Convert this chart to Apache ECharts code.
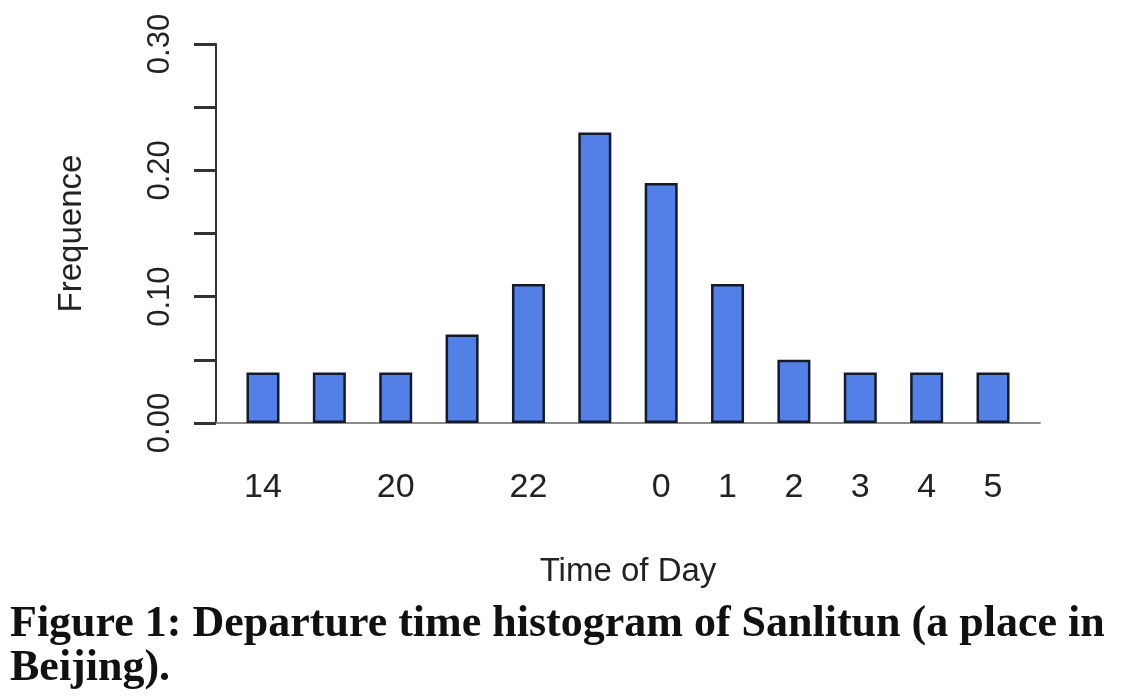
<!DOCTYPE html>
<html>
<head>
<meta charset="utf-8">
<script src="https://cdn.jsdelivr.net/npm/echarts@6/dist/echarts.min.js"></script>
<style>
html,body{margin:0;padding:0;background:#fff;}
#chart{width:1127px;height:700px;}
</style>
</head>
<body>
<div id="chart"></div>
<script>
// Hour bins; empty strings are bins whose labels are not printed in the original
const categories = ["14", "", "20", "", "22", "", "0", "1", "2", "3", "4", "5"];
const frequency = [0.04, 0.04, 0.04, 0.07, 0.11, 0.23, 0.19, 0.11, 0.05, 0.04, 0.04, 0.04];
const yTickLabels = [0, 0.10, 0.20, 0.30];
const captionLines = ["Figure 1: Departure time histogram of Sanlitun (a place in", "Beijing)."];

const chart = echarts.init(document.getElementById('chart'));
const sans = 'Liberation Sans, Arial, sans-serif';
const positions = categories.map((c, i) => i);

chart.setOption({
  animation: false,
  backgroundColor: '#ffffff',
  title: {
    text: captionLines.join('\n'),
    left: 5,
    top: 598,
    textStyle: {
      fontFamily: 'Liberation Serif, Times New Roman, serif',
      fontWeight: 'bold',
      fontSize: 44,
      lineHeight: 44,
      color: '#111'
    }
  },
  grid: { left: 216, right: 87, top: 44, bottom: 277 },
  xAxis: {
    type: 'value',
    min: -0.708,
    max: 11.708,
    name: 'Time of Day',
    nameLocation: 'middle',
    nameGap: 132,
    nameTextStyle: { fontFamily: sans, fontSize: 33, color: '#222' },
    axisLine: { show: true, onZero: false, lineStyle: { color: '#8a8a8a', width: 2 } },
    axisTick: { show: false },
    splitLine: { show: false },
    axisLabel: {
      customValues: positions,
      margin: 48,
      fontFamily: sans,
      fontSize: 34,
      color: '#222',
      formatter: v => categories[Math.round(v)] ?? ''
    }
  },
  yAxis: {
    type: 'value',
    min: 0,
    max: 0.30,
    interval: 0.05,
    name: 'Frequence',
    nameLocation: 'middle',
    nameGap: 128,
    nameTextStyle: { fontFamily: sans, fontSize: 33, color: '#222' },
    axisLine: { show: true, onZero: false, lineStyle: { color: '#333', width: 2 } },
    axisTick: { show: true, length: 22, lineStyle: { color: '#333', width: 3 } },
    splitLine: { show: false },
    axisLabel: {
      customValues: yTickLabels,
      rotate: 90,
      margin: 40,
      fontFamily: sans,
      fontSize: 31,
      color: '#222',
      formatter: v => v.toFixed(2)
    }
  },
  series: [{
    type: 'bar',
    barWidth: 33,
    data: frequency.map((v, i) => [i, v]),
    itemStyle: { color: '#5280e6', borderColor: '#141a2c', borderWidth: 2.5 }
  }]
});
</script>
</body>
</html>
